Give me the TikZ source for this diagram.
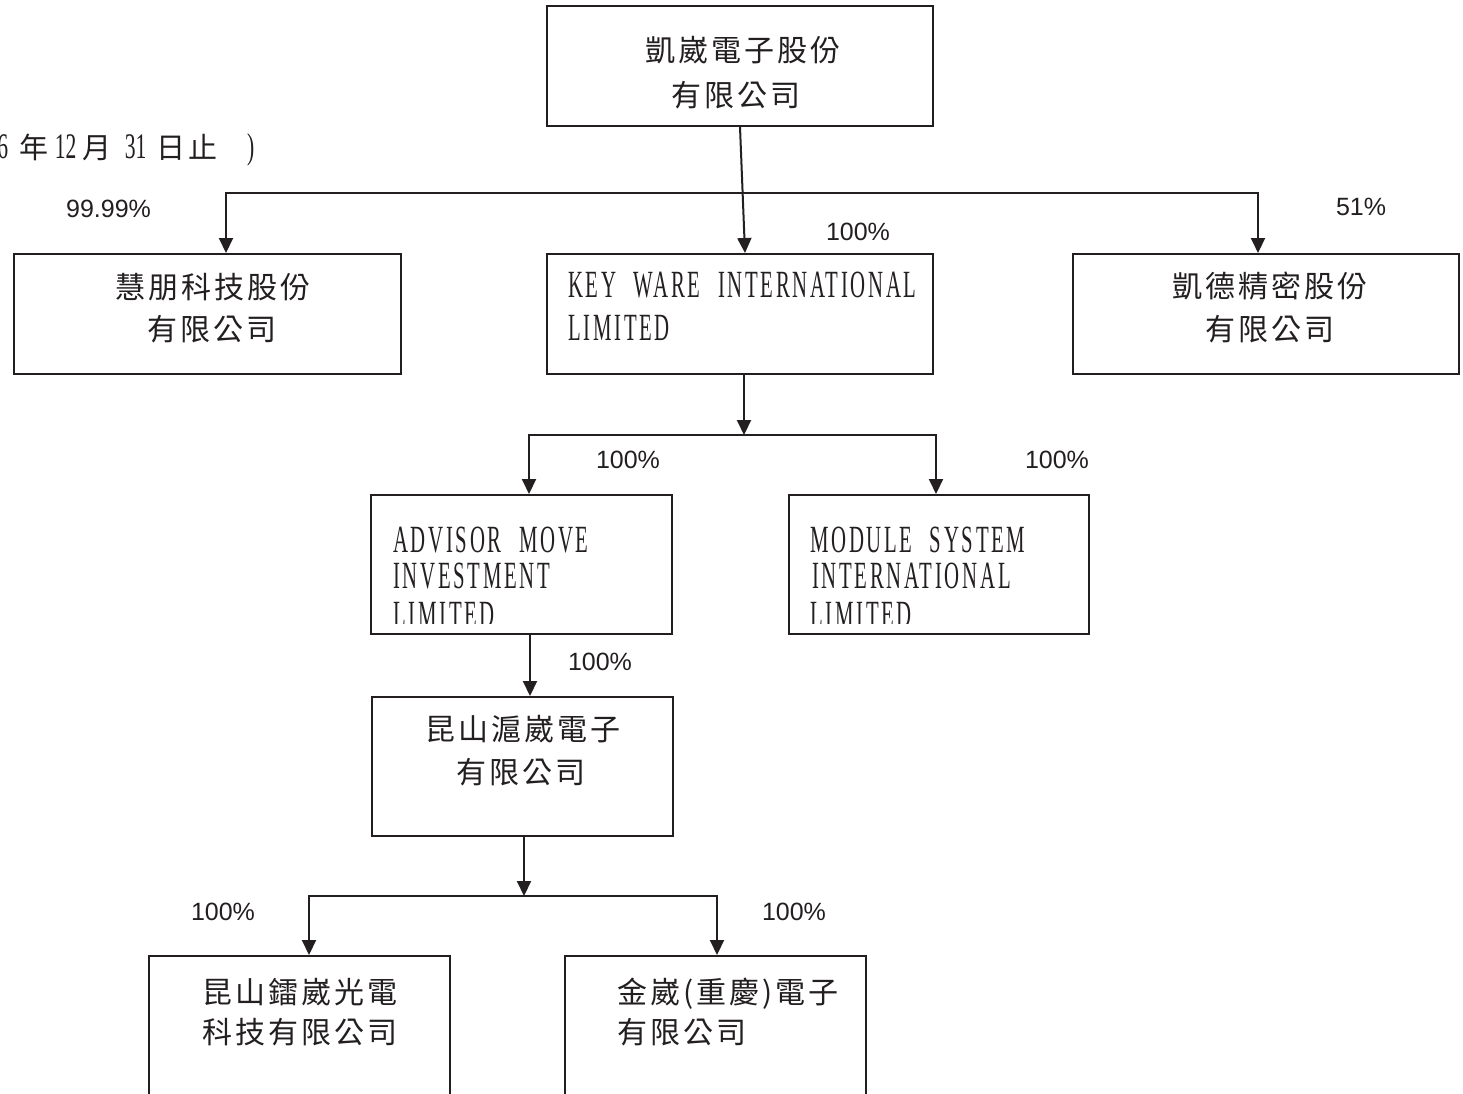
\documentclass[tikz,border=0pt]{standalone}
\usepackage{fontspec}
\usetikzlibrary{arrows.meta}
\newfontfamily\latf{Liberation Serif}[FakeStretch=0.54,LetterSpace=7,WordSpace=2.2]
\newfontfamily\datelatf{Liberation Serif}[FakeStretch=0.6]
\newfontfamily\cjkf{Noto Sans CJK TC}[LetterSpace=10]
\newfontfamily\cjkd{Noto Sans CJK TC}
\newfontfamily\pctf{Liberation Sans}
\definecolor{ink}{HTML}{231F20}
\newcommand\datelat[2]{\makebox[0pt][l]{\hspace{#1}\makebox[0pt]{\datelatf\fontsize{36pt}{40pt}\selectfont #2}}}
\newcommand\datecjk[2]{\makebox[0pt][l]{\hspace{#1}\makebox[0pt]{\cjkd\fontsize{29pt}{34pt}\selectfont #2}}}
\tikzset{
  orgbox/.style={draw=ink, line width=2pt, rectangle, inner sep=0pt},
  arr/.style={draw=ink, line width=2pt, -{Triangle[width=14pt,length=15pt]}},
  cjktxt/.style={inner sep=0pt, text=ink, font={\cjkf\fontsize{30pt}{34pt}\selectfont}},
  lattxt/.style={inner sep=0pt, text=ink, anchor=base west, font={\latf\fontsize{38.5pt}{44pt}\selectfont}},
  pcttxt/.style={inner sep=0pt, text=ink, font={\pctf\fontsize{25pt}{30pt}\selectfont}}
}
\begin{document}
\begin{tikzpicture}[x=1pt,y=-1pt]
\useasboundingbox (0,0) rectangle (1463,1093);
\fill[white] (0,0) rectangle (1463,1093);

% boxes
\node[orgbox, minimum width=386pt, minimum height=120pt] (top) at (740,66) {};
\node[orgbox, minimum width=387pt, minimum height=120pt] (hui) at (207.5,314) {};
\node[orgbox, minimum width=386pt, minimum height=120pt] (kw)  at (740,314) {};
\node[orgbox, minimum width=386pt, minimum height=120pt] (kd)  at (1266,314) {};
\node[orgbox, minimum width=301pt, minimum height=139pt] (adv) at (521.5,564.5) {};
\node[orgbox, minimum width=300pt, minimum height=139pt] (mod) at (939,564.5) {};
\node[orgbox, minimum width=301pt, minimum height=139pt] (kun) at (522.5,766.5) {};
\node[orgbox, minimum width=301pt, minimum height=160pt] (bl)  at (299.5,1036) {};
\node[orgbox, minimum width=301pt, minimum height=160pt] (br)  at (715.5,1036) {};

% date line (visible part)
\node[inner sep=0pt, anchor=base west, text=ink] (date) at (0,158)
  {\datelat{2pt}{6}\datecjk{33pt}{年}\datelat{65pt}{12}\datecjk{96pt}{月}\datelat{135pt}{31}\datecjk{170pt}{日}\datecjk{202pt}{止}\datelat{250pt}{)}};

% CJK texts
\node[cjktxt, anchor=base] (toptA) at (742.5,61) {凱崴電子股份};
\node[cjktxt, anchor=base] (toptB) at (735.5,106) {有限公司};
\node[cjktxt, anchor=base] (huitA) at (212.5,298) {慧朋科技股份};
\node[cjktxt, anchor=base] (huitB) at (211.5,340) {有限公司};
\node[cjktxt, anchor=base] (kdtA) at (1269.5,297) {凱德精密股份};
\node[cjktxt, anchor=base] (kdtB) at (1269.5,340) {有限公司};
\node[cjktxt, anchor=base] (kuntA) at (522.5,740) {昆山滬崴電子};
\node[cjktxt, anchor=base] (kuntB) at (520.5,783) {有限公司};
\node[cjktxt, anchor=base west] (bltA) at (202,1003) {昆山鐳崴光電};
\node[cjktxt, anchor=base west] (bltB) at (202,1043) {科技有限公司};
\node[cjktxt, anchor=base west] (brtA) at (617,1003) {金崴(重慶)電子};
\node[cjktxt, anchor=base west] (brtB) at (617,1043) {有限公司};

% Latin texts
\node[lattxt] (kwtA) at (568,297) {KEY WARE INTERNATIONAL};
\node[lattxt] (kwtB) at (568,340) {LIMITED};
\begin{scope}
\clip (360,480) rectangle (1100,623);
\node[lattxt] (advtA) at (393,552) {ADVISOR MOVE};
\node[lattxt] (advtB) at (393,588) {INVESTMENT};
\node[lattxt] (advtC) at (393,627) {LIMITED};
\node[lattxt] (modtA) at (810,552) {MODULE SYSTEM};
\node[lattxt] (modtB) at (812,588) {INTERNATIONAL};
\node[lattxt] (modtC) at (810,627) {LIMITED};
\end{scope}

% percentages
\node[pcttxt] (p1) at (108.5,209) {99.99\%};
\node[pcttxt] (p2) at (858,232) {100\%};
\node[pcttxt] (p3) at (1361,207) {51\%};
\node[pcttxt] (p4) at (628,460) {100\%};
\node[pcttxt] (p5) at (1057,460) {100\%};
\node[pcttxt] (p6) at (600,662) {100\%};
\node[pcttxt] (p7) at (223,912) {100\%};
\node[pcttxt] (p8) at (794,912) {100\%};

% connectors
\coordinate (bus1) at (740,193);
\coordinate (bus2) at (744,435);
\coordinate (bus3) at (524,896);
\draw[arr] (top.south) -- ([xshift=5pt]kw.north);
\draw[arr] (bus1) -| ([xshift=18.5pt]hui.north);
\draw[arr] (bus1) -| ([xshift=-8pt]kd.north);
\draw[arr] ([xshift=4pt]kw.south) -- (bus2);
\draw[arr] (bus2) -| ([xshift=7.5pt]adv.north);
\draw[arr] (bus2) -| ([xshift=-3pt]mod.north);
\draw[arr] ([xshift=8.5pt]adv.south) -- ([xshift=7.5pt]kun.north);
\draw[arr] ([xshift=1.5pt]kun.south) -- (bus3);
\draw[arr] (bus3) -| ([xshift=9.5pt]bl.north);
\draw[arr] (bus3) -| ([xshift=1.5pt]br.north);
\end{tikzpicture}
\end{document}
